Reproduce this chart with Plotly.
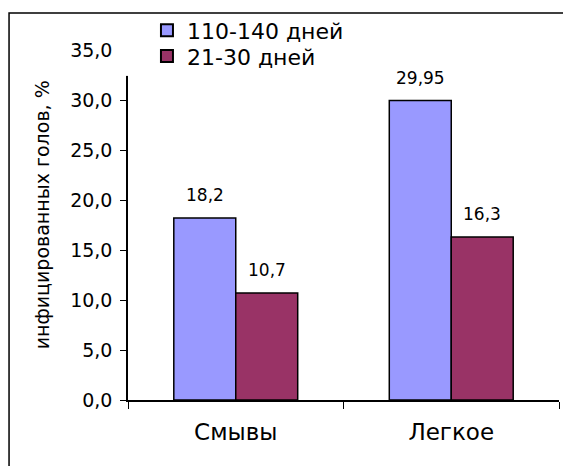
import plotly.graph_objects as go

categories = ["Смывы", "Легкое"]
series_names = ["110-140 дней", "21-30 дней"]
values_110_140 = [18.2, 29.95]
values_21_30 = [10.7, 16.3]
colors = ["#9999FF", "#993366"]
y_ticks = [0, 5, 10, 15, 20, 25, 30, 35]
y_title = "инфицированных голов, %"

def fmt(v):
    return ("%g" % v).replace(".", ",")

FONT = "DejaVu Sans, Liberation Sans, Arial, sans-serif"

fig = go.Figure()
legends = ["legend", "legend2"]
for name, vals, col, lg in zip(series_names, [values_110_140, values_21_30], colors, legends):
    fig.add_trace(go.Bar(
        x=categories, y=vals, name=name, legend=lg,
        marker=dict(color=col, line=dict(color="black", width=1.5)),
    ))

# data labels above each bar
offsets = [-31, 31]
for vals, off in zip([values_110_140, values_21_30], offsets):
    for c, v in zip(categories, vals):
        fig.add_annotation(x=c, y=v, text=fmt(v), showarrow=False,
                           xshift=off, yshift=11, yanchor="bottom",
                           font=dict(size=17, color="black"))

# y-axis title (placed slightly above the axis centre, as in the original)
fig.add_annotation(text=y_title, xref="paper", yref="paper", x=-0.2, y=0.53,
                   textangle=-90, showarrow=False, xanchor="center", yanchor="middle",
                   font=dict(size=19, color="black"))

leg_common = dict(xanchor="left", yanchor="middle", font=dict(size=22),
                  bgcolor="rgba(0,0,0,0)", itemsizing="constant")

# page body has an 8px margin, so the figure is 8px smaller than the window
fig.update_layout(
    width=563, height=458,
    margin=dict(l=120, r=12, t=42, b=66, autoexpand=False),
    paper_bgcolor="white", plot_bgcolor="white",
    font=dict(family=FONT, color="black"),
    separators=", ",
    barmode="group", bargap=0.425, bargroupgap=0,
    showlegend=True,
    legend=dict(x=0.044, y=1.056, **leg_common),
    legend2=dict(x=0.044, y=0.982, **leg_common),
    xaxis=dict(showline=True, linecolor="black", linewidth=1.5,
               ticks="outside", tickson="boundaries", ticklen=7,
               tickcolor="black", tickfont=dict(size=23),
               ticklabelstandoff=11, showgrid=False, automargin=False),
    yaxis=dict(range=[0, 35], tickvals=y_ticks, tickformat=".1f",
               showline=True, linecolor="black", linewidth=1.5,
               ticks="outside", ticklen=6, tickcolor="black",
               tickfont=dict(size=19), ticklabelstandoff=4,
               showgrid=False, zeroline=False, automargin=False),
    shapes=[
        dict(type="rect", xref="paper", yref="paper",
             x0=-0.276, x1=1.04, y0=-0.2, y1=1.106,
             line=dict(color="black", width=1.5), fillcolor="rgba(0,0,0,0)"),
        # the legend area hides the top of the value axis in the original
        dict(type="rect", xref="paper", yref="paper", layer="above",
             x0=-0.03, x1=0.02, y0=0.926, y1=1.02,
             line=dict(width=0), fillcolor="white"),
    ],
)

fig.write_html("out.html")
